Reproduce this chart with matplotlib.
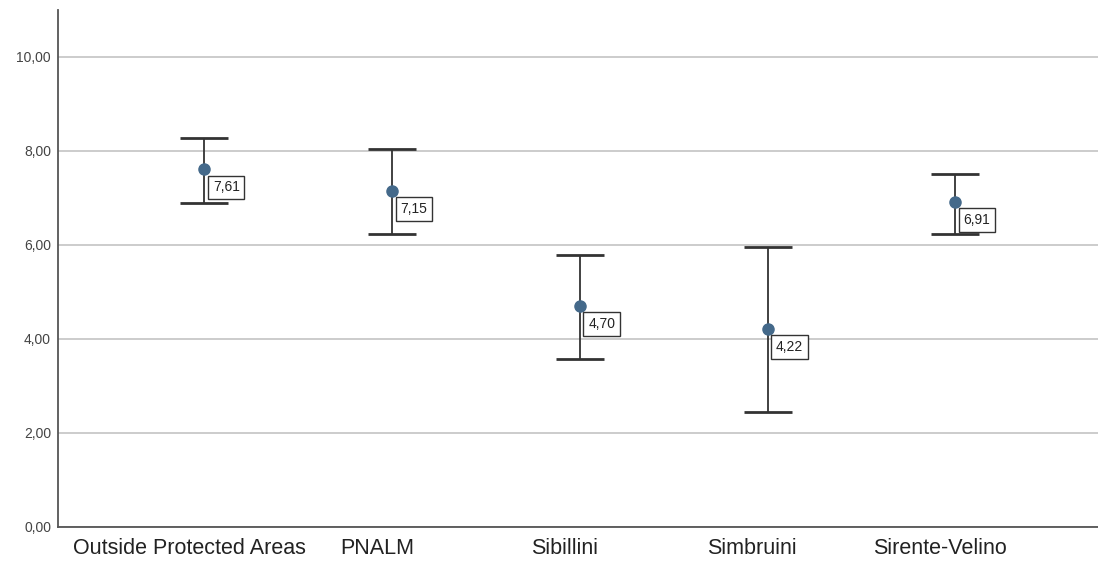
import matplotlib
matplotlib.use("Agg")
import matplotlib.pyplot as plt
import numpy as np

categories = ["Outside Protected Areas", "PNALM", "Sibillini", "Simbruini", "Sirente-Velino"]
means = [7.61, 7.15, 4.70, 4.22, 6.91]
upper = [8.28, 8.04, 5.79, 5.96, 7.51]
lower = [6.90, 6.23, 3.57, 2.45, 6.23]
mean_labels = ["7,61", "7,15", "4,70", "4,22", "6,91"]
yticks = [0, 2, 4, 6, 8, 10]
ytick_labels = ["0,00", "2,00", "4,00", "6,00", "8,00", "10,00"]

plt.rcParams['font.family'] = ['Liberation Sans', 'DejaVu Sans']

fig = plt.figure(figsize=(10.98, 5.65), dpi=100)
ax = fig.add_axes([58/1098, 1-527/565, 1-58/1098, (527-10)/565])

x = np.arange(len(categories))
m = np.array(means)
yerr = np.vstack([m - np.array(lower), np.array(upper) - m])

ax.set_axisbelow(True)
ax.yaxis.grid(True, color="#c4c4c4", linewidth=1.2)
ax.errorbar(x, m, yerr=yerr, fmt="none", ecolor="#333333", elinewidth=1.3,
            capsize=17, capthick=2.0, zorder=3)
ax.plot(x, m, "o", color="#44698a", markersize=8, zorder=4)

for xi, yi, lab in zip(x, m, mean_labels):
    ax.annotate(lab, (xi, yi), xytext=(6, -8), textcoords="offset points",
                ha="left", va="top", fontsize=10, color="#222222",
                bbox=dict(boxstyle="square,pad=0.35", fc="white", ec="#333333", lw=1.0),
                zorder=5)

ax.set_xlim(-0.78, 4.76)
ax.set_ylim(0, 11)
ax.set_xticks(x)
ax.set_xticklabels([])
for xi, cat in zip(x, categories):
    ax.annotate(cat, (xi, 0), xycoords=("data", "axes fraction"),
                xytext=(-11, -8), textcoords="offset points",
                ha="center", va="top", fontsize=15.5, color="#222222",
                annotation_clip=False)
ax.set_yticks(yticks)
ax.set_yticklabels(ytick_labels, fontsize=10, color="#444444")
ax.tick_params(axis="both", length=0)
ax.tick_params(axis="y", pad=5)
for s in ["top", "right"]:
    ax.spines[s].set_visible(False)
for s in ["left", "bottom"]:
    ax.spines[s].set_color("#555555")
    ax.spines[s].set_linewidth(1.3)

fig.savefig("out.png", dpi=100)
